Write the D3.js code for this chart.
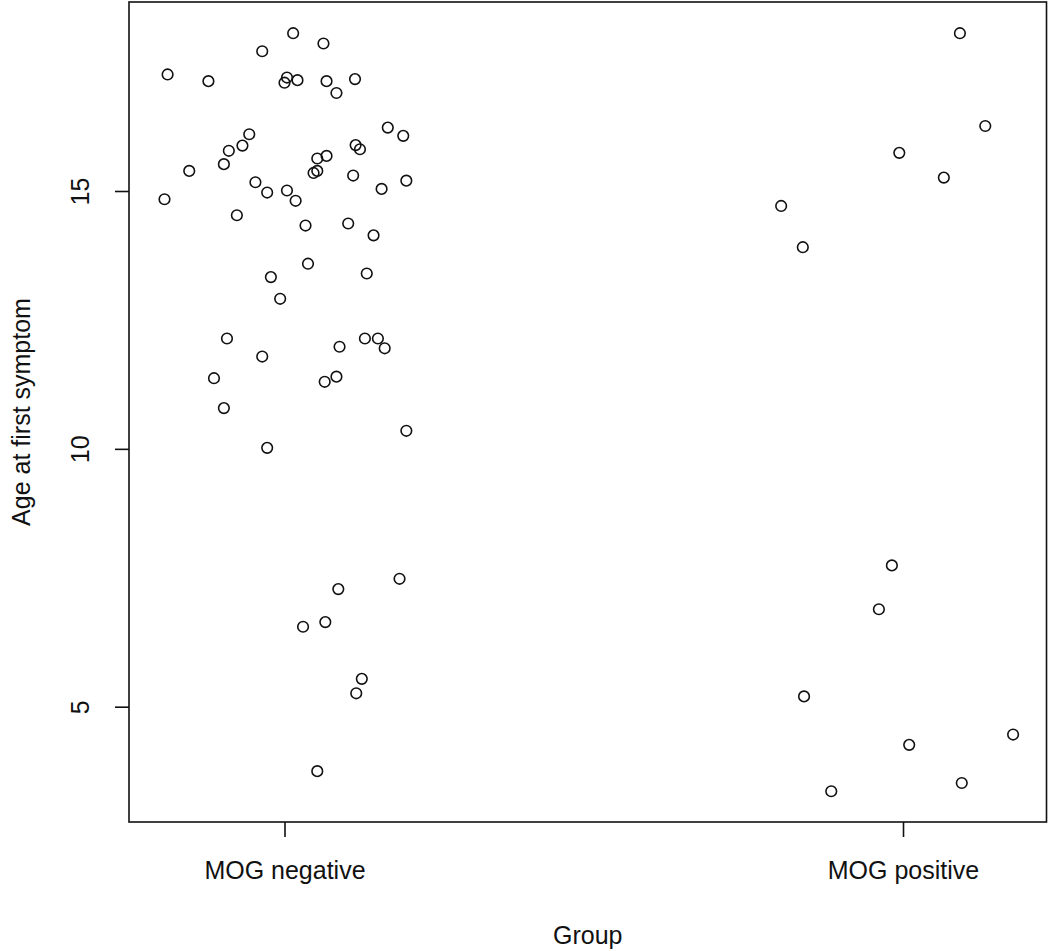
<!DOCTYPE html>
<html>
<head>
<meta charset="utf-8">
<script src="https://cdn.jsdelivr.net/npm/d3@7"></script>
<style>
  html, body { margin: 0; padding: 0; background: #fff; }
  svg { display: block; }
  text { font-family: "Liberation Sans", Arial, sans-serif; fill: #111; }
</style>
</head>
<body>
<svg id="chart" width="1050" height="951"></svg>
<script>
// ---- data ----
const categories = ["MOG negative", "MOG positive"];
const yTicks = [5, 10, 15];
const xTitle = "Group";
const yTitle = "Age at first symptom";

// MOG negative: age and horizontal jitter (in group units)
const negAge = [18.06,17.86,17.71,17.26,17.13,17.20,17.10,17.15,17.13,17.17,16.90,16.23,16.07,16.10,15.88,15.78,15.89,15.81,15.68,15.63,15.52,15.39,15.35,15.39,15.30,15.20,15.04,15.17,14.97,15.01,14.81,14.84,14.53,14.33,14.37,14.14,13.59,13.40,13.33,12.91,12.14,12.14,12.14,11.98,11.95,11.79,11.37,11.40,11.30,10.79,10.35,10.02,7.48,7.28,6.64,6.55,5.54,5.26,3.75];
const negJitter = [0.014,0.063,-0.036,-0.189,-0.123,0.004,0.000,0.021,0.068,0.114,0.084,0.167,0.192,-0.057,-0.068,-0.090,0.115,0.122,0.068,0.053,-0.098,-0.154,0.047,0.053,0.111,0.197,0.157,-0.047,-0.028,0.004,0.018,-0.194,-0.077,0.034,0.103,0.144,0.038,0.133,-0.022,-0.007,-0.093,0.130,0.151,0.089,0.162,-0.036,-0.114,0.084,0.065,-0.098,0.197,-0.028,0.186,0.087,0.066,0.030,0.125,0.116,0.053];

// MOG positive
const posAge = [18.06,16.26,15.74,15.26,14.71,13.91,7.74,6.89,5.20,4.46,4.26,3.52,3.36];
const posJitter = [0.092,0.133,-0.006,0.066,-0.197,-0.162,-0.018,-0.039,-0.160,0.178,0.010,0.095,-0.116];

const points = [
  ...negAge.map((a, i) => ({ group: 1, jitter: negJitter[i], age: a })),
  ...posAge.map((a, i) => ({ group: 2, jitter: posJitter[i], age: a }))
];

// ---- layout ----
const plot = { left: 129, right: 1046.5, top: 2, bottom: 822 };
const svg = d3.select("#chart");

const x = d3.scaleLinear().domain([0.7486, 2.232]).range([plot.left, plot.right]);
const y = d3.scaleLinear().domain([2.764, 18.665]).range([plot.bottom, plot.top]);

// box
svg.append("rect")
  .attr("x", plot.left).attr("y", plot.top)
  .attr("width", plot.right - plot.left).attr("height", plot.bottom - plot.top)
  .attr("fill", "none").attr("stroke", "#111").attr("stroke-width", 1.6);

// x axis
const xAxis = d3.axisBottom(x)
  .tickValues([1, 2])
  .tickFormat(d => categories[d - 1])
  .tickSize(15)
  .tickPadding(24);
const gx = svg.append("g").attr("transform", `translate(0,${plot.bottom})`).call(xAxis);
gx.select(".domain").remove();
gx.selectAll(".tick line").attr("stroke", "#111").attr("stroke-width", 1.6);
gx.selectAll(".tick text").attr("font-size", 25).attr("fill", "#111")
  .attr("font-family", "Liberation Sans, Arial, sans-serif");

// y axis
const yAxis = d3.axisLeft(y).tickValues(yTicks).tickFormat(d3.format("d")).tickSize(14);
const gy = svg.append("g").attr("transform", `translate(${plot.left},0)`).call(yAxis);
gy.select(".domain").remove();
gy.selectAll(".tick line").attr("stroke", "#111").attr("stroke-width", 1.6);
gy.selectAll(".tick text")
  .attr("font-size", 25).attr("fill", "#111")
  .attr("font-family", "Liberation Sans, Arial, sans-serif")
  .attr("text-anchor", "middle")
  .attr("dy", 0)
  .attr("x", 0).attr("y", 0)
  .attr("transform", "translate(-40,0) rotate(-90)");

// titles
svg.append("text")
  .attr("x", (plot.left + plot.right) / 2).attr("y", 944)
  .attr("text-anchor", "middle").attr("font-size", 25)
  .text(xTitle);

svg.append("text")
  .attr("transform", `translate(30,${(plot.top + plot.bottom) / 2}) rotate(-90)`)
  .attr("text-anchor", "middle").attr("font-size", 25)
  .text(yTitle);

// points
svg.append("g").selectAll("circle")
  .data(points)
  .join("circle")
  .attr("cx", d => x(d.group + d.jitter))
  .attr("cy", d => y(d.age))
  .attr("r", 5.3)
  .attr("fill", "none")
  .attr("stroke", "#111")
  .attr("stroke-width", 1.6);
</script>
</body>
</html>
